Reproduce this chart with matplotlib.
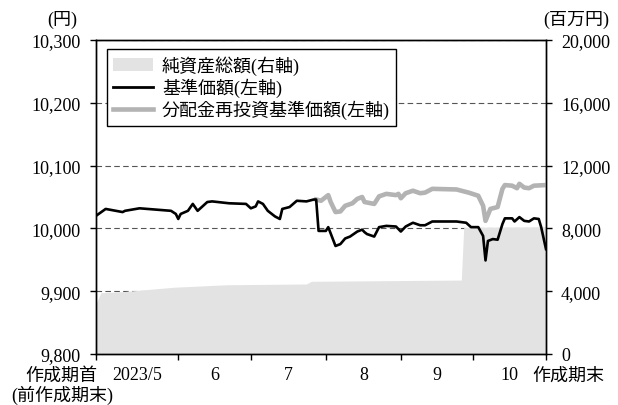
import numpy as np
import pandas as pd
import matplotlib
matplotlib.use('Agg')
import matplotlib.pyplot as plt
import matplotlib.dates as mdates
from matplotlib.patches import Patch
from matplotlib.lines import Line2D
from matplotlib.ticker import FixedLocator, FuncFormatter, NullFormatter

plt.rcParams['font.family'] = ['Liberation Serif', 'Noto Sans CJK JP']
plt.rcParams['font.size'] = 13

# 基準価額 (left axis, yen)
nav_dates = ['2023-04-28', '2023-05-02', '2023-05-09', '2023-05-10', '2023-05-16',
             '2023-05-29', '2023-05-31', '2023-06-01', '2023-06-02', '2023-06-05',
             '2023-06-07', '2023-06-09', '2023-06-13', '2023-06-15', '2023-06-22',
             '2023-06-29', '2023-07-01', '2023-07-03', '2023-07-04', '2023-07-06',
             '2023-07-08', '2023-07-11', '2023-07-13', '2023-07-14', '2023-07-17',
             '2023-07-20', '2023-07-24', '2023-07-27', '2023-07-28', '2023-07-29',
             '2023-08-01', '2023-08-02', '2023-08-05', '2023-08-07', '2023-08-09',
             '2023-08-11', '2023-08-14', '2023-08-16', '2023-08-17', '2023-08-18',
             '2023-08-21', '2023-08-23', '2023-08-26', '2023-08-30', '2023-09-01',
             '2023-09-03', '2023-09-06', '2023-09-09', '2023-09-11', '2023-09-14',
             '2023-09-24', '2023-09-28', '2023-09-30', '2023-10-03', '2023-10-05',
             '2023-10-06', '2023-10-07', '2023-10-09', '2023-10-11', '2023-10-13',
             '2023-10-14', '2023-10-17', '2023-10-18', '2023-10-20', '2023-10-22',
             '2023-10-24', '2023-10-26', '2023-10-28', '2023-10-29', '2023-10-31']
nav_values = [10020, 10031, 10026, 10028, 10032,
              10028, 10023, 10015, 10023, 10028,
              10039, 10028, 10042, 10043, 10040,
              10039, 10032, 10035, 10043, 10039,
              10028, 10019, 10015, 10031, 10034,
              10044, 10043, 10046, 10046, 9996,
              9996, 10002, 9972, 9975, 9984,
              9987, 9995, 9998, 9994, 9991,
              9987, 10002, 10004, 10003, 9995,
              10003, 10009, 10005, 10005, 10011,
              10011, 10009, 10002, 10002, 9988,
              9949, 9980, 9983, 9982, 10007,
              10016, 10016, 10011, 10018, 10012,
              10011, 10016, 10015, 10002, 9967]

# 分配金再投資基準価額 (left axis), only where it differs from 基準価額
reinv_dates = ['2023-07-28', '2023-07-30', '2023-08-02', '2023-08-03', '2023-08-05',
               '2023-08-07', '2023-08-09', '2023-08-12', '2023-08-14', '2023-08-16',
               '2023-08-17', '2023-08-21', '2023-08-23', '2023-08-26', '2023-08-30',
               '2023-08-31', '2023-09-01', '2023-09-03', '2023-09-06', '2023-09-09',
               '2023-09-11', '2023-09-14', '2023-09-24', '2023-09-29', '2023-10-03',
               '2023-10-05', '2023-10-06', '2023-10-08', '2023-10-11', '2023-10-13',
               '2023-10-14', '2023-10-17', '2023-10-19', '2023-10-20', '2023-10-22',
               '2023-10-24', '2023-10-26', '2023-10-31']
reinv_values = [10046, 10044, 10053, 10042, 10026,
                10027, 10036, 10040, 10047, 10050,
                10042, 10039, 10051, 10055, 10053,
                10055, 10048, 10056, 10060, 10056,
                10057, 10063, 10062, 10057, 10052,
                10036, 10012, 10031, 10034, 10063,
                10069, 10068, 10064, 10071, 10065,
                10064, 10068, 10069]

# 純資産総額 (right axis, 百万円)
assets_dates = ['2023-04-28', '2023-04-30', '2023-05-09', '2023-05-30', '2023-06-21',
                '2023-07-24', '2023-07-26', '2023-09-26', '2023-09-27', '2023-10-31']
assets_values = [3200, 3900, 3970, 4250, 4410,
                 4460, 4630, 4710, 8070, 8100]

period_start = '2023-04-28'
period_end = '2023-10-31'
month_edges = ['2023-06-01', '2023-07-01', '2023-08-01', '2023-09-01', '2023-10-01']
month_labels = ['2023/5', '6', '7', '8', '9', '10']

left_ticks = [9800, 9900, 10000, 10100, 10200, 10300]
right_ticks = [0, 4000, 8000, 12000, 16000, 20000]

nav_x = pd.to_datetime(nav_dates)
reinv_x = pd.to_datetime(reinv_dates)
assets_x = pd.to_datetime(assets_dates)

fig = plt.figure(figsize=(6.18, 4.06), dpi=100)
ax = fig.add_axes([96 / 618, 51 / 406, 450 / 618, 314 / 406])
ax2 = ax.twinx()
ax.set_zorder(ax2.get_zorder() + 1)
ax.patch.set_visible(False)

# area + grid on the right axis (grid sits under the area)
ax2.set_axisbelow(True)
ax2.yaxis.grid(True, linestyle=(0, (5, 3)), color='#555555', linewidth=0.8)
ax2.fill_between(assets_x, 0, assets_values, color='#e3e3e3', linewidth=0)
ax2.set_ylim(0, 20000)
ax2.set_yticks(right_ticks)
ax2.yaxis.set_major_formatter(FuncFormatter(lambda v, p: f'{v:,.0f}'))
ax2.tick_params(axis='y', direction='out', length=4.3, width=1, pad=6.5)

ax.plot(reinv_x, reinv_values, color='#b3b3b3', linewidth=3.3)
ax.plot(nav_x, nav_values, color='black', linewidth=1.9)
ax.set_ylim(9800, 10300)
ax.set_yticks(left_ticks)
ax.yaxis.set_major_formatter(FuncFormatter(lambda v, p: f'{v:,.0f}'))
ax.tick_params(axis='y', direction='out', length=4.3, width=1, pad=7)

x0 = pd.Timestamp(period_start)
x1 = pd.Timestamp(period_end)
ax.set_xlim(x0, x1)
edges = [x0] + list(pd.to_datetime(month_edges)) + [x1]
edge_nums = mdates.date2num(edges)
mids = (edge_nums[:-1] + edge_nums[1:]) / 2
ax.xaxis.set_major_locator(FixedLocator(edge_nums))
ax.xaxis.set_major_formatter(NullFormatter())
ax.xaxis.set_minor_locator(FixedLocator(mids))
ax.xaxis.set_minor_formatter(FuncFormatter(lambda v, p: month_labels[p]))
ax.tick_params(axis='x', which='major', direction='out', length=4.3, width=1)
ax.tick_params(axis='x', which='minor', length=0, pad=9)

for a in (ax, ax2):
    for s in a.spines.values():
        s.set_linewidth(1.0)

ax.annotate('作成期首', xy=(x0, 0), xycoords=('data', 'axes fraction'),
            xytext=(-35, -21), textcoords='offset pixels', ha='center', va='center')
ax.annotate('(前作成期末)', xy=(x0, 0), xycoords=('data', 'axes fraction'),
            xytext=(-34, -40), textcoords='offset pixels', ha='center', va='center')
ax.annotate('作成期末', xy=(x1, 0), xycoords=('data', 'axes fraction'),
            xytext=(22, -21), textcoords='offset pixels', ha='center', va='center')

fig.text(62 / 618, 1 - 20 / 406, '(円)', ha='center', va='center')
fig.text(576 / 618, 1 - 20 / 406, '(百万円)', ha='center', va='center')

handles = [Patch(facecolor='#e3e3e3', edgecolor='none'),
           Line2D([], [], color='black', linewidth=2),
           Line2D([], [], color='#b3b3b3', linewidth=3.3)]
labels = ['純資産総額(右軸)', '基準価額(左軸)', '分配金再投資基準価額(左軸)']
leg = ax.legend(handles, labels, loc='upper left', bbox_to_anchor=(0.024, 0.971),
                borderaxespad=0, fancybox=False, framealpha=1, edgecolor='black',
                handlelength=2.2, handletextpad=0.5, labelspacing=0.15,
                borderpad=0.35, fontsize=13)
leg.get_frame().set_linewidth(1.0)

fig.savefig('out.png', dpi=100)
